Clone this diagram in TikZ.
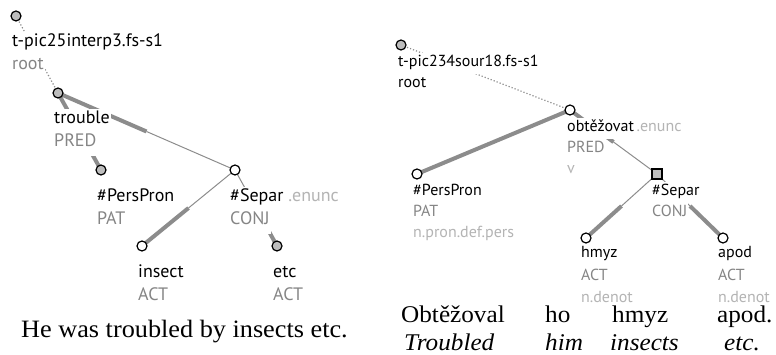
\documentclass[tikz,border=0pt]{standalone}
\usepackage{fontspec}
\setmainfont{Liberation Serif}[FakeStretch=1.05]
\setsansfont{PT Sans}
\usetikzlibrary{calc}
\definecolor{edgegray}{HTML}{8C8C8C}
\definecolor{funcgray}{HTML}{858585}
\definecolor{lightgray}{HTML}{B4B4B4}
\definecolor{nodegray}{HTML}{BDBDBD}

\tikzset{
  px/.style={x={(1pt,0pt)}, y={(0pt,-1pt)}},
  tnode/.style={circle, draw=black, line width=1.2pt, minimum size=10pt, inner sep=0pt},
  tsquare/.style={rectangle, draw=black, line width=1.2pt, minimum size=10pt, inner sep=0pt, fill=nodegray},
  lab/.style={anchor=base west, fill=white, inner xsep=1pt, inner ysep=0pt,
    text height=15pt, text depth=9pt, font=\sffamily\fontsize{18}{18}\selectfont},
  labr/.style={lab, text height=14pt, text depth=7pt, font=\sffamily\fontsize{16}{16}\selectfont},
  thickedge/.style={edgegray, line width=4pt},
  thinedge/.style={edgegray, line width=1pt},
  rootedge/.style={edgegray, line width=1.2pt, dotted},
  sent/.style={anchor=base west, inner sep=0pt, font=\fontsize{25}{25}\selectfont},
  sentr/.style={sent, font=\fontsize{24}{24}\selectfont},
  gloss/.style={sent, font=\fontsize{24}{24}\selectfont\itshape}
}

\begin{document}
\begin{tikzpicture}[px]
    \useasboundingbox (0,0) rectangle (776,355);

    % Uzly levého stromu
    \coordinate (lroot) at (16,16);
    \coordinate (ltrouble) at (58,93);
    \coordinate (lpers) at (101,170);
    \coordinate (lsepar) at (235,170);
    \coordinate (linsect) at (142,246);
    \coordinate (letc) at (277,246);

    % Uzly pravého stromu
    \coordinate (rroot) at (401,45);
    \coordinate (robt) at (570,110);
    \coordinate (rpers) at (417,174);
    \coordinate (rsepar) at (657,174);
    \coordinate (rhmyz) at (586,238);
    \coordinate (rapod) at (723,238);

    % Hrany
    \draw[rootedge] (lroot) -- (ltrouble);
    \draw[thickedge] (ltrouble) -- (lpers);
    \draw[thickedge] (ltrouble) -- ($(ltrouble)!0.5!(lsepar)$);
    \draw[thinedge] ($(ltrouble)!0.5!(lsepar)$) -- (lsepar);
    \draw[thinedge] (lsepar) -- ($(lsepar)!0.5!(linsect)$);
    \draw[thickedge] ($(lsepar)!0.5!(linsect)$) -- (linsect);
    \draw[thinedge] (lsepar) -- ($(lsepar)!0.5!(letc)$);
    \draw[thickedge] ($(lsepar)!0.5!(letc)$) -- (letc);

    \draw[rootedge] (rroot) -- (robt);
    \draw[thickedge] (robt) -- (rpers);
    \draw[thickedge] (robt) -- ($(robt)!0.5!(rsepar)$);
    \draw[thinedge] ($(robt)!0.5!(rsepar)$) -- (rsepar);
    \draw[thinedge] (rsepar) -- ($(rsepar)!0.5!(rhmyz)$);
    \draw[thickedge] ($(rsepar)!0.5!(rhmyz)$) -- (rhmyz);
    \draw[thinedge] (rsepar) -- ($(rsepar)!0.5!(rapod)$);
    \draw[thickedge] ($(rsepar)!0.5!(rapod)$) -- (rapod);

    % Popisky levého stromu
    \node[lab] (lroot-t) at (11,47) {t-pic25interp3.fs-s1};
    \node[lab, text=funcgray] (lroot-f) at (11,70) {root};
    \node[lab] (ltrouble-t) at (53,124) {trouble};
    \node[lab, text=funcgray] (ltrouble-f) at (53,147) {PRED};
    \node[lab] (lpers-t) at (96,202) {\#PersPron};
    \node[lab, text=funcgray] (lpers-f) at (96,225) {PAT};
    \node[lab] (lsepar-t) at (229,202) {\#Separ \textcolor{lightgray}{.enunc}};
    \node[lab, text=funcgray] (lsepar-f) at (229,225) {CONJ};
    \node[lab] (linsect-t) at (137,278) {insect};
    \node[lab, text=funcgray] (linsect-f) at (137,301) {ACT};
    \node[lab] (letc-t) at (272,278) {etc};
    \node[lab, text=funcgray] (letc-f) at (272,301) {ACT};

    % Popisky pravého stromu
    \node[labr] (rroot-t) at (397,67) {t-pic234sour18.fs-s1};
    \node[labr] (rroot-f) at (397,88) {root};
    \node[labr] (robt-t) at (566,132) {obtěžovat\,\textcolor{lightgray}{.enunc}};
    \node[labr, text=funcgray] (robt-f) at (566,153) {PRED};
    \node[labr, text=lightgray] (robt-s) at (566,174) {v};
    \node[labr] (rpers-t) at (412,196) {\#PersPron};
    \node[labr, text=funcgray] (rpers-f) at (412,217) {PAT};
    \node[labr, text=lightgray] (rpers-s) at (412,238) {n.pron.def.pers};
    \node[labr] (rsepar-t) at (651,196) {\#Separ};
    \node[labr, text=funcgray] (rsepar-f) at (651,217) {CONJ};
    \node[labr] (rhmyz-t) at (580,258) {hmyz};
    \node[labr, text=funcgray] (rhmyz-f) at (580,280) {ACT};
    \node[labr, text=lightgray] (rhmyz-s) at (580,302) {n.denot};
    \node[labr] (rapod-t) at (717,258) {apod};
    \node[labr, text=funcgray] (rapod-f) at (717,280) {ACT};
    \node[labr, text=lightgray] (rapod-s) at (717,302) {n.denot};

    % Body
    \foreach \point in {lroot,ltrouble,lpers,letc}
        \node[tnode, fill=nodegray] at (\point) {};
    \foreach \point in {lsepar,linsect,rpers,robt,rhmyz,rapod}
        \node[tnode, fill=white] at (\point) {};
    \node[tnode, fill=nodegray] at (rroot) {};
    \node[tsquare] at (rsepar) {};

    % Věty
    \node[sent] (lsent) at (21,337) {He was troubled by insects etc.};
    \node[sentr] (rw1) at (401,322) {Obtěžoval};
    \node[sentr] (rw2) at (545,322) {ho};
    \node[sentr] (rw3) at (612,322) {hmyz};
    \node[sentr] (rw4) at (717,322) {apod.};
    \node[gloss] (rg1) at (404,350) {Troubled};
    \node[gloss] (rg2) at (545,350) {him};
    \node[gloss] (rg3) at (610,350) {insects};
    \node[gloss] (rg4) at (724,350) {etc.};
\end{tikzpicture}
\end{document}
